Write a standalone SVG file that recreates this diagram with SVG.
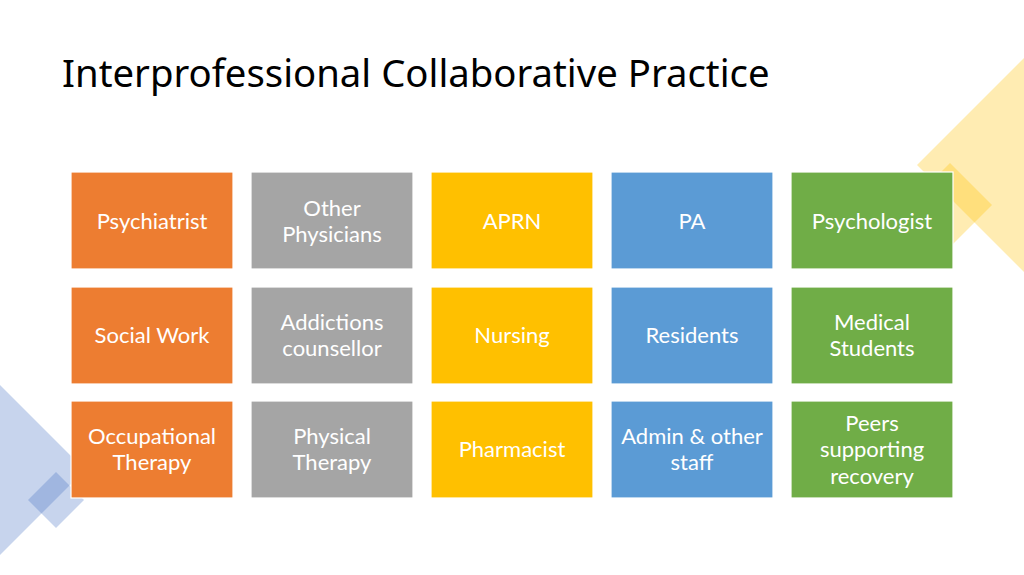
<svg xmlns="http://www.w3.org/2000/svg" width="1024" height="575" viewBox="0 0 1024 575">
<style>
.bx{stroke:#ffffff;stroke-width:1.2}
.t{font-family:Lato,"Liberation Sans",sans-serif;font-size:22px;fill:#ffffff;text-anchor:middle}
.o{fill:#ED7D31}.g{fill:#A5A5A5}.y{fill:#FFC000}.b{fill:#5B9BD5}.gr{fill:#70AD47}
.dy{fill:#FFC000;fill-opacity:0.3}
.db{fill:#4472C4;fill-opacity:0.3}
</style>
<rect width="1024" height="575" fill="#ffffff"/>
<g id="decor">
<polygon class="dy" points="917,165 1030,52 1143,165 1030,278"/>
<polygon class="dy" points="950,163 992,205 950,247 908,205"/>
<polygon class="db" points="85,470 -100,285 -285,470 -100,655"/>
<polygon class="db" points="28,500 56,472 84,500 56,528"/>
</g>
<text x="62" y="87" font-family="'Noto Sans','Open Sans',sans-serif" font-size="38.3" fill="#000000">Interprofessional Collaborative Practice</text>
<g id="connectors"></g>
<g id="psychiatrist"><rect class="bx o" x="71" y="172" width="162" height="97"/><text class="t" x="152" y="229">Psychiatrist</text></g>
<g id="other-physicians"><rect class="bx g" x="251" y="172" width="162" height="97"/><text class="t" x="332" y="216">Other</text><text class="t" x="332" y="242">Physicians</text></g>
<g id="aprn"><rect class="bx y" x="431" y="172" width="162" height="97"/><text class="t" x="512" y="229">APRN</text></g>
<g id="pa"><rect class="bx b" x="611" y="172" width="162" height="97"/><text class="t" x="692" y="229">PA</text></g>
<g id="psychologist"><rect class="bx gr" x="791" y="172" width="162" height="97"/><text class="t" x="872" y="229">Psychologist</text></g>
<g id="social-work"><rect class="bx o" x="71" y="287" width="162" height="97"/><text class="t" x="152" y="343">Social Work</text></g>
<g id="addictions"><rect class="bx g" x="251" y="287" width="162" height="97"/><text class="t" x="332" y="330">Addictions</text><text class="t" x="332" y="356">counsellor</text></g>
<g id="nursing"><rect class="bx y" x="431" y="287" width="162" height="97"/><text class="t" x="512" y="343">Nursing</text></g>
<g id="residents"><rect class="bx b" x="611" y="287" width="162" height="97"/><text class="t" x="692" y="343">Residents</text></g>
<g id="medical-students"><rect class="bx gr" x="791" y="287" width="162" height="97"/><text class="t" x="872" y="330">Medical</text><text class="t" x="872" y="356">Students</text></g>
<g id="occupational-therapy"><rect class="bx o" x="71" y="401" width="162" height="97"/><text class="t" x="152" y="444">Occupational</text><text class="t" x="152" y="470">Therapy</text></g>
<g id="physical-therapy"><rect class="bx g" x="251" y="401" width="162" height="97"/><text class="t" x="332" y="444">Physical</text><text class="t" x="332" y="470">Therapy</text></g>
<g id="pharmacist"><rect class="bx y" x="431" y="401" width="162" height="97"/><text class="t" x="512" y="457">Pharmacist</text></g>
<g id="admin"><rect class="bx b" x="611" y="401" width="162" height="97"/><text class="t" x="692" y="444">Admin &amp; other</text><text class="t" x="692" y="470">staff</text></g>
<g id="peers"><rect class="bx gr" x="791" y="401" width="162" height="97"/><text class="t" x="872" y="431">Peers</text><text class="t" x="872" y="457">supporting</text><text class="t" x="872" y="484">recovery</text></g>
</svg>
